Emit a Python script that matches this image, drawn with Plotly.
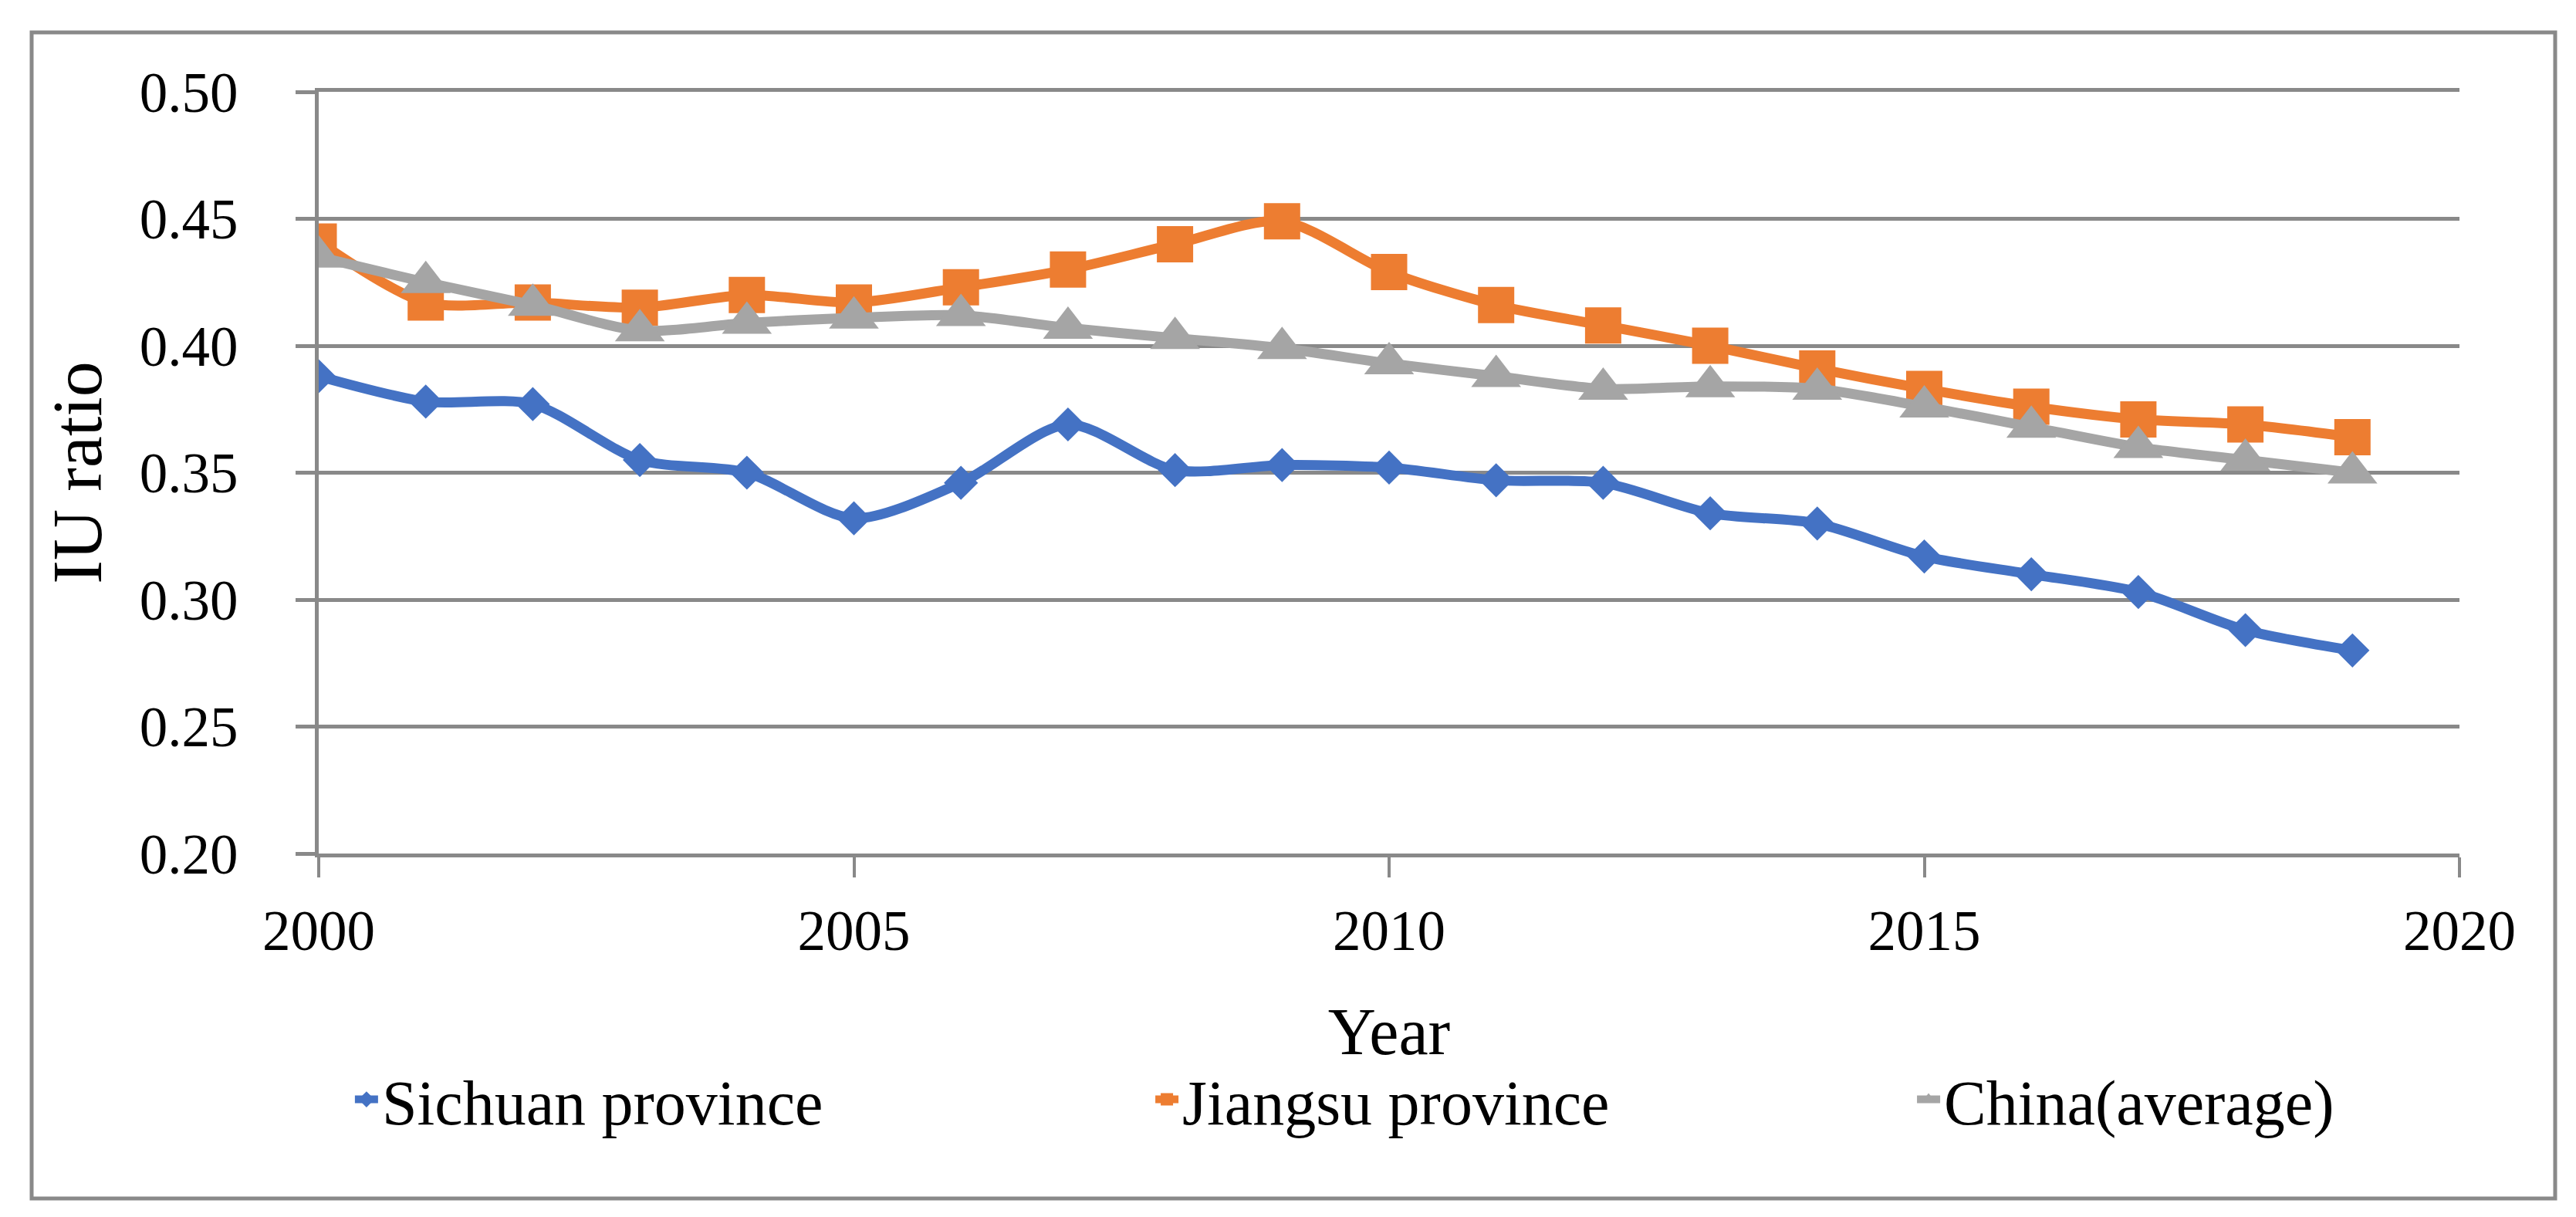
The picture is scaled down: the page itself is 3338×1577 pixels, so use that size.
import plotly.graph_objects as go

years = list(range(2000, 2020))
sichuan = [0.388, 0.378, 0.377, 0.355, 0.350, 0.332, 0.346, 0.369, 0.351, 0.353,
           0.352, 0.347, 0.346, 0.334, 0.330, 0.317, 0.310, 0.303, 0.288, 0.280]
jiangsu = [0.441, 0.417, 0.417, 0.415, 0.420, 0.417, 0.423, 0.430, 0.440, 0.449,
           0.429, 0.416, 0.408, 0.400, 0.391, 0.383, 0.376, 0.371, 0.369, 0.364]
china = [0.435, 0.425, 0.416, 0.406, 0.409, 0.411, 0.412, 0.407, 0.403, 0.399,
         0.393, 0.388, 0.383, 0.384, 0.383, 0.376, 0.368, 0.360, 0.355, 0.350]
names = ["Sichuan province", "Jiangsu province", "China(average)"]
x_ticks = [2000, 2005, 2010, 2015, 2020]
y_ticks = [0.20, 0.25, 0.30, 0.35, 0.40, 0.45, 0.50]

FONT = "Palatino Linotype, Book Antiqua, Palatino, Liberation Serif, serif"
GRID = "#898989"

fig = go.Figure()
styles = [
    (sichuan, "#4472C4", "diamond", 34, "legend"),
    (jiangsu, "#ED7D31", "square", 47, "legend2"),
    (china, "#A5A5A5", "triangle-up", 56, "legend3"),
]
for (vals, color, sym, size, leg), name in zip(styles, names):
    fig.add_trace(go.Scatter(
        x=years, y=vals, name=name, mode="lines+markers", legend=leg,
        line=dict(color=color, width=13, shape="spline", smoothing=0.8),
        marker=dict(symbol=sym, size=size, color=color, line=dict(width=0)),
    ))

legend_style = dict(
    orientation="h", xanchor="left", y=-0.323, yanchor="middle",
    font=dict(family=FONT, size=82, color="black"),
    itemsizing="trace", bgcolor="rgba(0,0,0,0)",
)

fig.update_layout(
    width=3338, height=1577, autosize=False,
    margin=dict(l=405, r=159, t=111, b=479),
    paper_bgcolor="white", plot_bgcolor="white",
    font=dict(family=FONT, color="black", size=73),
    showlegend=True,
    legend=dict(x=0.0151, **legend_style),
    legend2=dict(x=0.389, **legend_style),
    legend3=dict(x=0.7448, **legend_style),
    xaxis=dict(
        range=[2000, 2020], tickvals=x_ticks, ticktext=[str(v) for v in x_ticks],
        showgrid=False, zeroline=False,
        showline=True, linecolor=GRID, linewidth=5, mirror=True,
        ticks="outside", ticklen=26, tickwidth=4, tickcolor=GRID,
        tickfont=dict(family=FONT, size=73, color="black"),
        ticklabelstandoff=6,
        title=dict(text="Year", font=dict(family=FONT, size=86, color="black"), standoff=62),
    ),
    yaxis=dict(
        range=[0.20, 0.50], tickvals=y_ticks, ticktext=[f"{v:.2f}" for v in y_ticks],
        showgrid=True, gridcolor=GRID, gridwidth=5, zeroline=False,
        showline=True, linecolor=GRID, linewidth=5,
        ticks="outside", ticklen=25, tickwidth=5, tickcolor=GRID,
        tickfont=dict(family=FONT, size=73, color="black"),
        ticklabelstandoff=60,
        title=dict(text="IU ratio", font=dict(family=FONT, size=92, color="black"), standoff=20),
    ),
    shapes=[dict(
        type="rect", xref="paper", yref="paper",
        x0=-0.1341, x1=1.0447, y0=-0.453, y1=1.078,
        line=dict(color=GRID, width=5), fillcolor="rgba(0,0,0,0)", layer="below",
    )],
)

fig.write_html("out.html")
